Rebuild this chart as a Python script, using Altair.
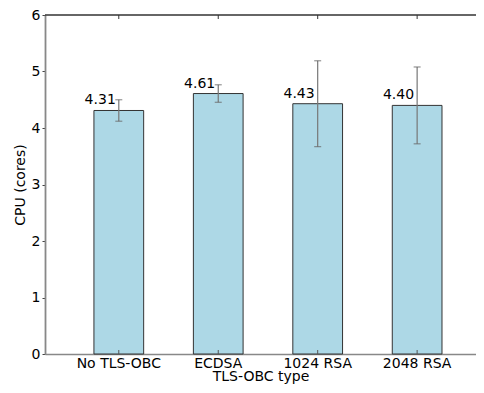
import altair as alt
import pandas as pd

categories = ["No TLS-OBC", "ECDSA", "1024 RSA", "2048 RSA"]
means = [4.31, 4.61, 4.43, 4.40]
errors = [0.19, 0.155, 0.76, 0.68]
labels = ["4.31", "4.61", "4.43", "4.40"]
y_ticks = [0, 1, 2, 3, 4, 5, 6]

df = pd.DataFrame({
    "type": categories,
    "cpu": means,
    "lo": [m - e for m, e in zip(means, errors)],
    "hi": [m + e for m, e in zip(means, errors)],
    "label": labels,
})

W, H = 431, 339
FONT = "DejaVu Sans"

xscale = alt.Scale(domain=categories, paddingInner=0.5, paddingOuter=0.417, align=0.59)
yscale = alt.Scale(domain=[0, 6], nice=False)

x_enc = alt.X("type:N", scale=xscale, sort=categories,
              axis=alt.Axis(title="TLS-OBC type", labelAngle=0, ticks=False,
                            labelPadding=2, titlePadding=-1,
                            domainColor="#888888", domainWidth=1.5))
y_enc = alt.Y("cpu:Q", scale=yscale,
              axis=alt.Axis(title="CPU (cores)", values=y_ticks, format="d", grid=False,
                            tickSize=3, tickColor="#444444", tickWidth=1,
                            labelPadding=2, titlePadding=4,
                            domainColor="#888888", domainWidth=1.8))

base = alt.Chart(df)

bars = base.mark_bar(color="#ADD8E6", stroke="#333333", strokeWidth=1).encode(
    x=x_enc, y=y_enc)

err = base.mark_rule(color="#777777", strokeWidth=1.2).encode(
    x=alt.X("type:N", scale=xscale, sort=categories),
    y=alt.Y("lo:Q", scale=yscale), y2="hi:Q")

cap_lo = base.mark_tick(color="#666666", size=7, thickness=1.2, orient="horizontal").encode(
    x=alt.X("type:N", scale=xscale, sort=categories),
    y=alt.Y("lo:Q", scale=yscale))
cap_hi = base.mark_tick(color="#666666", size=7, thickness=1.2, orient="horizontal").encode(
    x=alt.X("type:N", scale=xscale, sort=categories),
    y=alt.Y("hi:Q", scale=yscale))

text = base.mark_text(align="right", baseline="bottom", dx=-3, dy=-3,
                      font=FONT, fontSize=14, color="black").encode(
    x=alt.X("type:N", scale=xscale, sort=categories),
    y=alt.Y("cpu:Q", scale=yscale), text="label:N")

top_ticks = base.mark_rule(color="#333333", strokeWidth=1).encode(
    x=alt.X("type:N", scale=xscale, sort=categories),
    y=alt.value(0), y2=alt.value(4))
bot_ticks = base.mark_rule(color="#555555", strokeWidth=1).encode(
    x=alt.X("type:N", scale=xscale, sort=categories),
    y=alt.value(H), y2=alt.value(H - 4))

top_spine = alt.Chart(pd.DataFrame({"a": [0]})).mark_rule(color="#333333", strokeWidth=1.5).encode(
    x=alt.value(0), x2=alt.value(W), y=alt.value(0))

chart = alt.layer(bars, err, cap_lo, cap_hi, bot_ticks, top_ticks, top_spine, text).properties(
    width=W, height=H,
    autosize=alt.AutoSizeParams(type="none"),
    padding={"left": 37, "top": 7, "right": 0, "bottom": 31},
).configure_view(strokeWidth=0, stroke="transparent").configure_axis(
    labelFont=FONT, titleFont=FONT, labelFontSize=14, titleFontSize=14,
    titleFontWeight="normal", labelColor="black", titleColor="black",
)

chart.save("out.html", embed_options={"renderer": "svg", "actions": False})
